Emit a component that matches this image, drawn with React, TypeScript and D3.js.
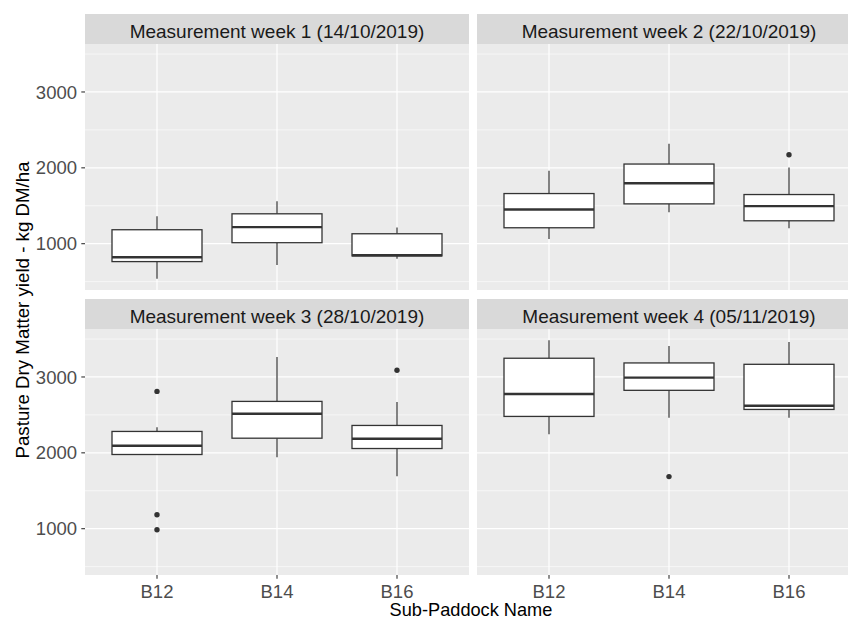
import React from "react";
import * as d3 from "d3";

const facets = [
  "Measurement week 1 (14/10/2019)",
  "Measurement week 2 (22/10/2019)",
  "Measurement week 3 (28/10/2019)",
  "Measurement week 4 (05/11/2019)",
];
const paddocks = ["B12", "B14", "B16"];

// per facet, per paddock: [lower whisker, Q1, median, Q3, upper whisker]
const week1Stats = [
  [537, 764, 822, 1184, 1363],
  [720, 1013, 1219, 1394, 1560],
  [803, 839, 848, 1131, 1215],
];
const week2Stats = [
  [1062, 1210, 1451, 1661, 1963],
  [1416, 1525, 1796, 2050, 2317],
  [1202, 1302, 1495, 1648, 2006],
];
const week3Stats = [
  [1972, 1978, 2093, 2282, 2338],
  [1942, 2193, 2516, 2678, 3264],
  [1691, 2057, 2185, 2361, 2669],
];
const week4Stats = [
  [2246, 2480, 2775, 3247, 3485],
  [2463, 2824, 2991, 3185, 3409],
  [2463, 2572, 2621, 3167, 3462],
];
const week1Outliers = [[], [], []];
const week2Outliers = [[], [], [2173]];
const week3Outliers = [[2810, 1184, 986], [], [3088]];
const week4Outliers = [[], [1687], []];

const yMajorTicks = [1000, 2000, 3000];
const yMinorTicks = [500, 1500, 2500, 3500];

const xTitle = "Sub-Paddock Name";
const yTitle = "Pasture Dry Matter yield - kg DM/ha";

const allStats = [week1Stats, week2Stats, week3Stats, week4Stats];
const allOutliers = [week1Outliers, week2Outliers, week3Outliers, week4Outliers];

const W = 848;
const H = 623;
const panelLefts = [85, 477];
const panelW = 384;
const stripTops = [14, 299];
const stripH = 30;
const panelH = 246;
const FONT = "'Liberation Sans', Arial, sans-serif";

export default function App() {
  const allVals: number[] = [];
  allStats.forEach((f) => f.forEach((s) => allVals.push(...s)));
  allOutliers.forEach((f) => f.forEach((o) => allVals.push(...o)));
  const vmin = d3.min(allVals) as number;
  const vmax = d3.max(allVals) as number;
  const pad = (vmax - vmin) * 0.05;
  const domain = [vmin - pad, vmax + pad];

  const x = d3.scalePoint<string>().domain(paddocks).range([0, panelW]).padding(0.6);
  const step = x.step();
  const boxW = step * 0.75;
  const lineCol = "#333333";

  return (
    <svg
      width={W}
      height={H}
      style={{ position: "absolute", left: 0, top: 0, display: "block", background: "white" }}
      fontFamily={FONT}
    >
      {facets.map((title, i) => {
        const col = i % 2;
        const row = Math.floor(i / 2);
        const px = panelLefts[col];
        const sTop = stripTops[row];
        const pTop = sTop + stripH;
        const pBot = pTop + panelH;
        const y = d3.scaleLinear().domain(domain).range([pBot, pTop]);
        const stats = allStats[i];
        const outs = allOutliers[i];
        return (
          <g key={i}>
            <rect x={px} y={pTop} width={panelW} height={panelH} fill="#EBEBEB" />
            {yMinorTicks.map((t) => (
              <line key={"mn" + t} x1={px} x2={px + panelW} y1={y(t)} y2={y(t)} stroke="white" strokeWidth={0.6} />
            ))}
            {yMajorTicks.map((t) => (
              <line key={"mj" + t} x1={px} x2={px + panelW} y1={y(t)} y2={y(t)} stroke="white" strokeWidth={1.2} />
            ))}
            {paddocks.map((p) => (
              <line key={"vx" + p} x1={px + (x(p) as number)} x2={px + (x(p) as number)} y1={pTop} y2={pBot} stroke="white" strokeWidth={1.2} />
            ))}
            <rect x={px} y={sTop} width={panelW} height={stripH} fill="#D9D9D9" />
            <text x={px + panelW / 2} y={sTop + 24.3} textAnchor="middle" fontSize={19} fill="#1A1A1A">
              {title}
            </text>
            {paddocks.map((p, j) => {
              const cx = px + (x(p) as number);
              const [lw, q1, med, q3, uw] = stats[j];
              return (
                <g key={"b" + p}>
                  <line x1={cx} x2={cx} y1={y(q3)} y2={y(uw)} stroke={lineCol} strokeWidth={1.2} />
                  <line x1={cx} x2={cx} y1={y(q1)} y2={y(lw)} stroke={lineCol} strokeWidth={1.2} />
                  <rect x={cx - boxW / 2} y={y(q3)} width={boxW} height={y(q1) - y(q3)} fill="white" stroke={lineCol} strokeWidth={1.3} />
                  <line x1={cx - boxW / 2} x2={cx + boxW / 2} y1={y(med)} y2={y(med)} stroke={lineCol} strokeWidth={2.4} />
                  {outs[j].map((o, k) => (
                    <circle key={k} cx={cx} cy={y(o)} r={2.7} fill={lineCol} />
                  ))}
                </g>
              );
            })}
            {col === 0 &&
              yMajorTicks.map((t) => (
                <g key={"yt" + t}>
                  <line x1={px - 3.7} x2={px} y1={y(t)} y2={y(t)} stroke={lineCol} strokeWidth={1.1} />
                  <text x={px - 8} y={y(t)} dy="0.36em" textAnchor="end" fontSize={18.5} fill="#4D4D4D">
                    {t}
                  </text>
                </g>
              ))}
            {row === 1 &&
              paddocks.map((p) => (
                <g key={"xt" + p}>
                  <line x1={px + (x(p) as number)} x2={px + (x(p) as number)} y1={pBot} y2={pBot + 3.7} stroke={lineCol} strokeWidth={1.1} />
                  <text x={px + (x(p) as number)} y={pBot + 22.7} textAnchor="middle" fontSize={18.5} fill="#4D4D4D">
                    {p}
                  </text>
                </g>
              ))}
          </g>
        );
      })}
      <text x={471} y={616} textAnchor="middle" fontSize={18.2} fill="black">
        {xTitle}
      </text>
      <text transform="translate(28.5,310) rotate(-90)" textAnchor="middle" fontSize={18.7} fill="black">
        {yTitle}
      </text>
    </svg>
  );
}
